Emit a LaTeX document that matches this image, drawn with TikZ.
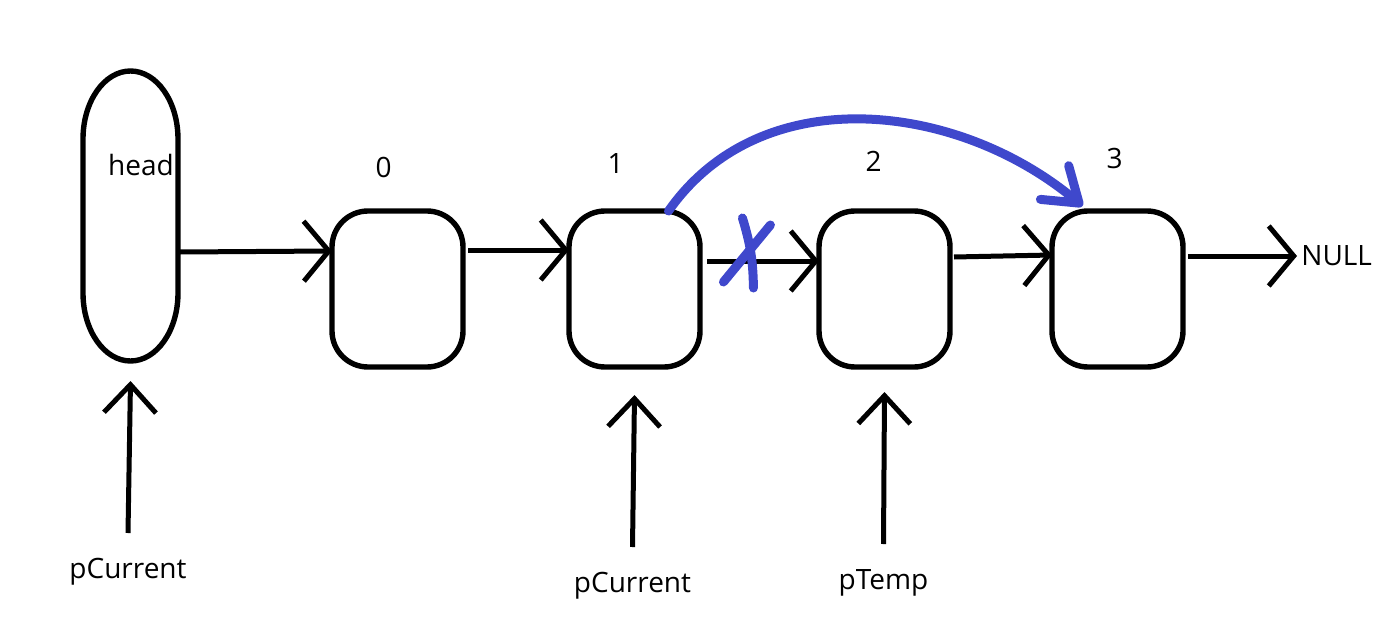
\documentclass[tikz,border=0pt]{standalone}
\usepackage{fontspec}
\setmainfont{Open Sans}
\usetikzlibrary{positioning,arrows.meta}
\definecolor{penblue}{RGB}{63,72,204}

\begin{document}
\begin{tikzpicture}[
    x=0.5pt, y=0.5pt,
    every node/.style={font=\fontsize{14}{17}\selectfont},
    item/.style={draw, line width=2.7pt, rounded corners=18pt, minimum width=65.5pt, minimum height=78pt, outer sep=0pt},
    headbox/.style={minimum width=47.5pt, minimum height=145pt, outer sep=0pt},
    link/.style={-{Straight Barb[length=12.5pt,width=30pt]}, line width=2.5pt},
    pointer/.style={-{Straight Barb[length=14pt,width=26pt]}, line width=2.5pt},
    redirect/.style={-{Straight Barb[length=16pt,width=22pt,round]}, line width=4.5pt, penblue, line cap=round}
  ]
  \useasboundingbox (0,0) rectangle (1397,-642);

  % head and the list items
  \node[headbox] (head) at (130.5,-216) {};
  \draw[line width=2.7pt] ([yshift=-34pt]head.north east) -- ([yshift=34pt]head.south east)
    arc[start angle=0, end angle=-180, x radius=23.75pt, y radius=34pt]
    -- ([yshift=-34pt]head.north west)
    arc[start angle=180, end angle=0, x radius=23.75pt, y radius=34pt] -- cycle;
  \node (headtxt) at ([xshift=5.25pt,yshift=25.5pt]head.center) {head};

  \node[item, right=77pt of head, yshift=-36.5pt] (n0) {};
  \node[item, right=53pt of n0] (n1) {};
  \node[item, right=59.5pt of n1] (n2) {};
  \node[item, right=51pt of n2] (n3) {};
  \node[right=57pt of n3, yshift=16.5pt, inner sep=2pt] (null) {NULL};

  % indices
  \node[above=13pt of n0, xshift=-7pt] (i0) {0};
  \node[above=15pt of n1, xshift=-9.5pt] (i1) {1};
  \node[above=16pt of n2, xshift=-5.5pt] (i2) {2};
  \node[above=17.5pt of n3, xshift=-1.5pt] (i3) {3};

  % pointers
  \node[below=95pt of head, xshift=-1.25pt] (p0) {pCurrent};
  \node[below=99pt of n1, xshift=-1pt] (p1) {pCurrent};
  \node[below=97.5pt of n2, xshift=-0.5pt] (p2) {pTemp};

  % links
  \draw[link] ([xshift=1pt,yshift=-18pt]head.east) -- ([yshift=19pt]n0.west);
  \draw[link] ([xshift=2.5pt,yshift=19.5pt]n0.east) -- ([yshift=19.5pt]n1.west);
  \draw[link] ([xshift=3.5pt,yshift=14pt]n1.east) -- coordinate[pos=0.37] (cut) ([yshift=14pt]n2.west);
  \draw[link] ([xshift=2pt,yshift=16pt]n2.east) -- ([yshift=17pt]n3.west);
  \draw[link] ([xshift=2.5pt,yshift=16.5pt]n3.east) -- (null.west);

  \draw[pointer] ([yshift=9pt]p0.north) -- ([yshift=-10pt]head.south);
  \draw[pointer] ([yshift=9pt]p1.north) -- ([yshift=-14pt]n1.south);
  \draw[pointer] ([yshift=9pt]p2.north) -- ([yshift=-12.5pt]n2.south);

  % new link 1 -> 3, old link crossed out
  \draw[redirect] ([xshift=17pt]n1.north) to[out=55, in=140] ([xshift=-17.5pt,yshift=2.5pt]n3.north);
  \draw[penblue, line width=4.5pt, line cap=round] ([shift={(-3pt,21.5pt)}]cut) to[bend left=8] ([shift={(2.5pt,-13.5pt)}]cut);
  \draw[penblue, line width=4.5pt, line cap=round] ([shift={(11pt,18pt)}]cut) -- ([shift={(-12.5pt,-10.5pt)}]cut);
\end{tikzpicture}
\end{document}
